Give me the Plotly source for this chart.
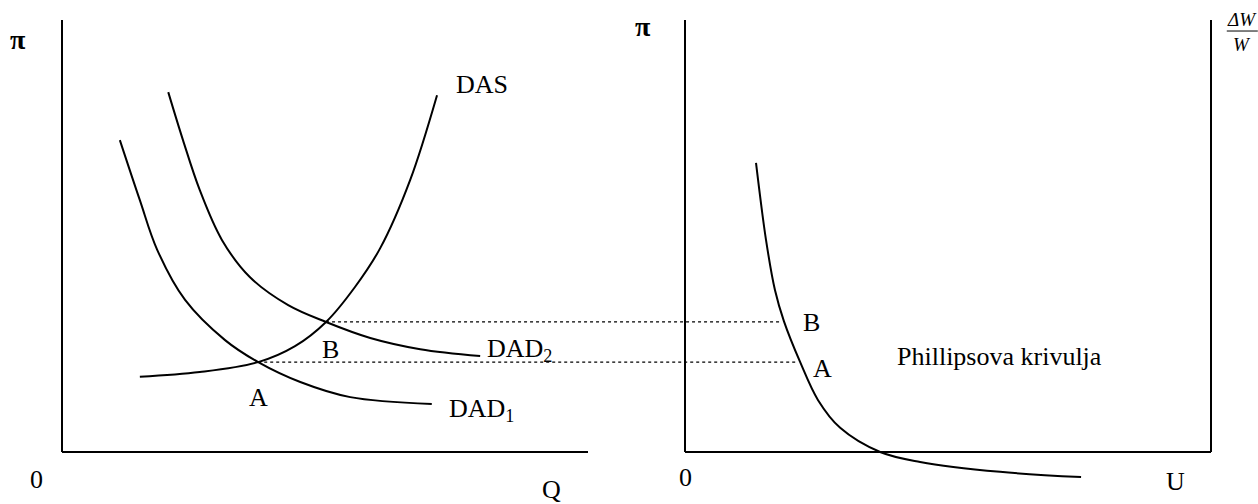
import plotly.graph_objects as go

# ---- Data (diagram units: Q / U horizontal, pi vertical, axes run 0..10) ----
das_q = [1.48, 2.62, 3.73, 4.43, 5.02, 5.57, 6.05, 6.62, 7.13]
das_pi = [1.74, 1.85, 2.08, 2.45, 3.01, 3.82, 4.72, 6.30, 8.26]

dad1_q = [1.10, 1.48, 1.81, 2.34, 3.10, 3.73, 4.53, 5.48, 7.03]
dad1_pi = [7.22, 5.83, 4.68, 3.52, 2.59, 2.08, 1.62, 1.27, 1.11]

dad2_q = [2.02, 2.30, 2.62, 3.04, 3.57, 4.30, 5.02, 5.86, 6.81, 7.95]
dad2_pi = [8.33, 7.22, 6.06, 4.91, 4.05, 3.40, 3.01, 2.64, 2.38, 2.22]

phil_u = [1.35, 1.54, 1.71, 1.88, 2.19, 2.53, 2.95, 3.71, 4.47, 5.99, 7.53]
phil_pi = [6.69, 4.91, 3.75, 3.03, 2.08, 1.20, 0.56, 0.00, -0.23, -0.46, -0.58]

# equilibrium points
eq_names = ["A", "B"]
eq_q = [3.73, 5.02]
eq_pi = [2.08, 3.01]
eq_u = [2.19, 1.88]

axis_max = 10.0

# ---- Layout constants ----
W, H = 1258, 504
PX_X = 52.6     # pixels per horizontal unit
PX_Y = 43.2     # pixels per vertical unit
LEFT_ORIGIN = 62
RIGHT_ORIGIN = 685
BOTTOM = 452
OFF = (RIGHT_ORIGIN - LEFT_ORIGIN) / PX_X   # right panel horizontal offset

FONT = "Liberation Serif, Times New Roman, serif"
FS = 26

fig = go.Figure()

line = dict(color="black", width=2)

def add_curve(xs, ys, off=0.0):
    fig.add_trace(go.Scatter(x=[v + off for v in xs], y=ys, mode="lines",
                             line=dict(color="black", width=2, shape="spline", smoothing=1.0),
                             hoverinfo="skip", showlegend=False))

add_curve(das_q, das_pi)
add_curve(dad1_q, dad1_pi)
add_curve(dad2_q, dad2_pi)
add_curve(phil_u, phil_pi, OFF)

# dotted connectors
for q, p, u in zip(eq_q, eq_pi, eq_u):
    fig.add_trace(go.Scatter(x=[q, OFF + u - 0.08], y=[p, p], mode="lines",
                             line=dict(color="black", width=1.3, dash="dot"),
                             hoverinfo="skip", showlegend=False))

# axes
shapes = []
for ox in (0.0, OFF):
    shapes.append(dict(type="line", xref="x", yref="y", x0=ox, y0=0, x1=ox, y1=axis_max, line=line))
    shapes.append(dict(type="line", xref="x", yref="y", x0=ox, y0=0, x1=ox + axis_max, y1=0, line=line))
shapes.append(dict(type="line", xref="x", yref="y", x0=OFF + axis_max, y0=0,
                   x1=OFF + axis_max, y1=axis_max, line=line))
# fraction bar for dW/W
shapes.append(dict(type="line", xref="x", yref="y", x0=OFF + 10.30, y0=9.745,
                   x1=OFF + 10.89, y1=9.745, line=dict(color="black", width=1)))

def lab(text, x, y, xanchor="center", size=FS):
    fig.add_annotation(x=x, y=y, text=text, showarrow=False, xref="x", yref="y",
                       xanchor=xanchor, yanchor="middle",
                       font=dict(family=FONT, size=size, color="black"))

lab("<b>π</b>", -0.84, 9.54, size=28)
lab("<b>π</b>", OFF - 0.80, 9.84, size=28)
lab("<i>ΔW</i>", OFF + 10.59, 10.02, size=19)
lab("<i>W</i>", OFF + 10.59, 9.44, size=19)
lab("DAS", 7.99, 8.50)
lab(eq_names[0], 3.73, 1.27)
lab(eq_names[1], 5.10, 2.38)
lab("DAD<sub>2</sub>", 8.04, 2.35, xanchor="left")
lab("DAD<sub>1</sub>", 7.32, 0.98, xanchor="left")
lab(eq_names[1], OFF + 2.41, 2.99)
lab(eq_names[0], OFF + 2.61, 1.94)
lab("Phillipsova krivulja", OFF + 5.97, 2.20)
lab("0", -0.48, -0.63)
lab("Q", 9.30, -0.86)
lab("0", OFF + 0.0, -0.60)
lab("U", OFF + 9.32, -0.69)

fig.update_layout(
    width=W, height=H,
    margin=dict(l=0, r=0, t=0, b=0),
    paper_bgcolor="white", plot_bgcolor="white",
    shapes=shapes,
    showlegend=False,
    xaxis=dict(range=[-LEFT_ORIGIN / PX_X, (W - LEFT_ORIGIN) / PX_X], visible=False, fixedrange=True),
    yaxis=dict(range=[-(H - BOTTOM) / PX_Y, BOTTOM / PX_Y], visible=False, fixedrange=True),
)

fig.write_html("out.html", config={"displayModeBar": False},
               post_script="document.body.style.margin='0';document.body.style.overflow='hidden';")
